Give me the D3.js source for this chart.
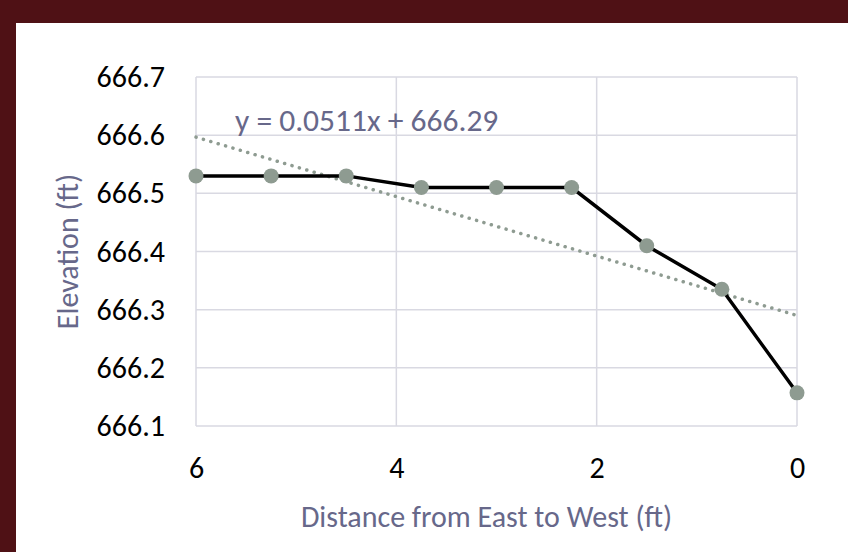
<!DOCTYPE html>
<html>
<head>
<meta charset="utf-8">
<script src="https://cdn.jsdelivr.net/npm/d3@7"></script>
<style>
    body { margin: 0; background: #4f1115; }
    svg text { font-family: Carlito, Calibri, Lato, "Open Sans", sans-serif; }
</style>
</head>
<body>
<div id="chart"></div>
<script>
// data
let distances = [6, 5.25, 4.5, 3.75, 3, 2.25, 1.5, 0.75, 0];
let elevations = [666.53, 666.53, 666.53, 666.51, 666.51, 666.51, 666.41, 666.335, 666.157];
let xTicks = [6, 4, 2, 0];
let yTicks = [666.1, 666.2, 666.3, 666.4, 666.5, 666.6, 666.7];
let trendSlope = 0.0511;
let trendIntercept = 666.29;
let trendLabel = "y = 0.0511x + 666.29";

let W = 848, H = 552;
let margin = {top: 77, right: 51, bottom: 126, left: 196};
let width = W - margin.left - margin.right;
let height = H - margin.top - margin.bottom;

let svgRoot = d3.select("#chart").append("svg")
    .attr("width", W)
    .attr("height", H);

// maroon frame + white card
svgRoot.append("rect").attr("width", W).attr("height", H).attr("fill", "#4f1115");
svgRoot.append("rect").attr("x", 16).attr("y", 23).attr("width", W - 16).attr("height", H - 23).attr("fill", "#ffffff");

let svg = svgRoot.append("g")
    .attr("transform", `translate(${margin.left},${margin.top})`);

// scales (x reversed: 6 on the left, 0 on the right)
let x = d3.scaleLinear().domain([6, 0]).range([0, width]);
let y = d3.scaleLinear().domain([666.1, 666.7]).range([height, 0]);

let gridColor = "#d9d9e2";
let titleColor = "#67688a";
let fontSize = 30;

// horizontal gridlines
svg.append("g")
    .selectAll("line")
    .data(yTicks)
    .enter()
    .append("line")
    .attr("x1", 0).attr("x2", width)
    .attr("y1", d => y(d)).attr("y2", d => y(d))
    .attr("stroke", gridColor)
    .attr("stroke-width", 1.5);

// vertical gridlines
svg.append("g")
    .selectAll("line")
    .data(xTicks)
    .enter()
    .append("line")
    .attr("x1", d => x(d)).attr("x2", d => x(d))
    .attr("y1", 0).attr("y2", height)
    .attr("stroke", gridColor)
    .attr("stroke-width", 1.5);

// y axis labels
let yAxis = d3.axisLeft(y).tickValues(yTicks).tickSize(0).tickPadding(31).tickFormat(d3.format(".1f"));
let yg = svg.append("g").call(yAxis);
yg.select(".domain").remove();
yg.selectAll("text").attr("font-size", fontSize).attr("fill", "#000");

// x axis labels
let xAxis = d3.axisBottom(x).tickValues(xTicks).tickSize(0).tickPadding(31).tickFormat(d3.format("d"));
let xg = svg.append("g").attr("transform", `translate(0,${height})`).call(xAxis);
xg.select(".domain").remove();
xg.selectAll("text").attr("font-size", fontSize).attr("fill", "#000");

// axis titles
svg.append("text")
    .text("Distance from East to West (ft)")
    .attr("x", width / 2 - 10)
    .attr("y", height + 101)
    .attr("text-anchor", "middle")
    .attr("font-size", fontSize)
    .attr("fill", titleColor);

svg.append("text")
    .text("Elevation (ft)")
    .attr("transform", `translate(${78 - margin.left},${height / 2})rotate(-90)`)
    .attr("text-anchor", "middle")
    .attr("font-size", fontSize)
    .attr("fill", titleColor);

// linear trendline
let trend = x.domain().map(d => ({x: d, y: trendSlope * d + trendIntercept}));
svg.append("path")
    .datum(trend)
    .attr("d", d3.line().x(d => x(d.x)).y(d => y(d.y)))
    .attr("fill", "none")
    .attr("stroke", "#8e9b91")
    .attr("stroke-width", 3.5)
    .attr("stroke-linecap", "round")
    .attr("stroke-dasharray", "0.1 7.6");

svg.append("text")
    .text(trendLabel)
    .attr("x", 235 - margin.left)
    .attr("y", 131 - margin.top)
    .attr("font-size", 31.5)
    .attr("fill", titleColor);

// data line
let points = distances.map((d, i) => ({x: d, y: elevations[i]}));
svg.append("path")
    .datum(points)
    .attr("d", d3.line().x(d => x(d.x)).y(d => y(d.y)))
    .attr("fill", "none")
    .attr("stroke", "#000")
    .attr("stroke-width", 3.5);

svg.append("g")
    .selectAll("circle")
    .data(points)
    .enter()
    .append("circle")
    .attr("cx", d => x(d.x))
    .attr("cy", d => y(d.y))
    .attr("r", 7.5)
    .attr("fill", "#8e9b91");
</script>
</body>
</html>
